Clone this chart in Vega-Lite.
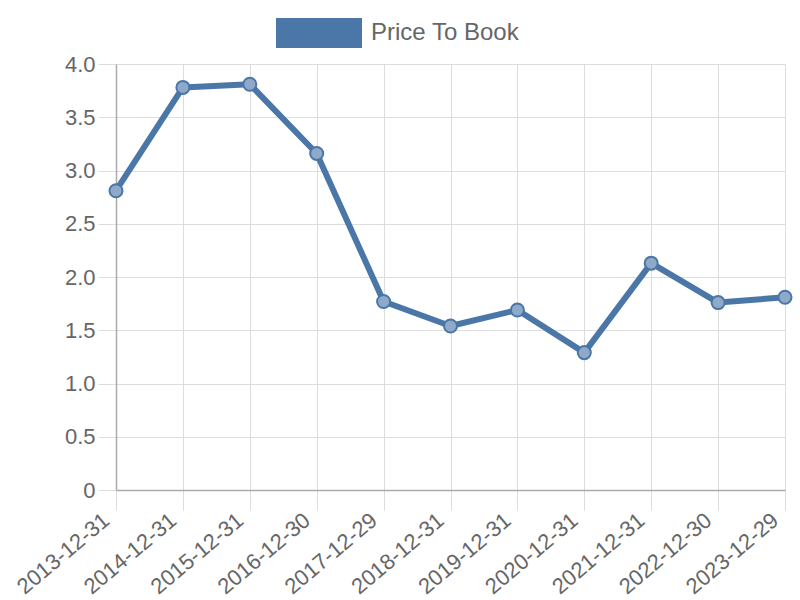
{
  "$schema": "https://vega.github.io/schema/vega-lite/v6.json",
  "width": 669,
  "height": 426,
  "autosize": {"type": "none"},
  "padding": {"left": 116, "top": 64, "right": 15, "bottom": 110},
  "background": "white",
  "config": {
    "font": "Liberation Sans",
    "view": {"stroke": null},
    "axis": {
      "labelColor": "#666666",
      "labelFontSize": 22,
      "labelFont": "Liberation Sans",
      "gridColor": "#dddddd",
      "gridWidth": 1,
      "domainColor": "#aaaaaa",
      "domainWidth": 1.5,
      "tickColor": "#dddddd",
      "tickSize": 18,
      "title": null
    }
  },
  "data": {
    "values": [
      {"date": "2013-12-31", "value": 2.81, "series": "Price To Book"},
      {"date": "2014-12-31", "value": 3.78, "series": "Price To Book"},
      {"date": "2015-12-31", "value": 3.81, "series": "Price To Book"},
      {"date": "2016-12-30", "value": 3.16, "series": "Price To Book"},
      {"date": "2017-12-29", "value": 1.77, "series": "Price To Book"},
      {"date": "2018-12-31", "value": 1.54, "series": "Price To Book"},
      {"date": "2019-12-31", "value": 1.69, "series": "Price To Book"},
      {"date": "2020-12-31", "value": 1.29, "series": "Price To Book"},
      {"date": "2021-12-31", "value": 2.13, "series": "Price To Book"},
      {"date": "2022-12-30", "value": 1.76, "series": "Price To Book"},
      {"date": "2023-12-29", "value": 1.81, "series": "Price To Book"}
    ]
  },
  "encoding": {
    "x": {
      "field": "date",
      "type": "ordinal",
      "scale": {"type": "point", "padding": 0},
      "axis": {
        "labelAngle": -40,
        "labelAlign": "right",
        "labelBaseline": "middle",
        "labelOffset": -10,
        "labelPadding": 7,
        "tickSize": 20,
        "grid": true,
        "domain": true,
        "ticks": true
      }
    },
    "y": {
      "field": "value",
      "type": "quantitative",
      "scale": {"domain": [0, 4]},
      "axis": {
        "values": [0, 0.5, 1, 1.5, 2, 2.5, 3, 3.5, 4],
        "labelExpr": "datum.value == 0 ? '0' : format(datum.value, '.1f')",
        "labelPadding": 3,
        "grid": true
      }
    },
    "color": {
      "field": "series",
      "type": "nominal",
      "scale": {"range": ["#4a76a8"]},
      "legend": {
        "title": null,
        "orient": "none",
        "legendX": 160,
        "legendY": -74,
        "symbolType": "M-1,-0.35L1,-0.35L1,0.35L-1,0.35Z",
        "symbolSize": 7396,
        "symbolStrokeWidth": 0,
        "symbolOpacity": 1,
        "labelFontSize": 24,
        "labelColor": "#666666",
        "labelFont": "Liberation Sans",
        "labelOffset": 9
      }
    }
  },
  "layer": [
    {
      "mark": {"type": "line", "strokeWidth": 6, "strokeJoin": "round"}
    },
    {
      "mark": {
        "type": "point",
        "filled": true,
        "size": 170,
        "fill": "#8fa9c9",
        "fillOpacity": 1,
        "stroke": "#4a76a8",
        "strokeWidth": 2,
        "opacity": 1
      }
    }
  ]
}
